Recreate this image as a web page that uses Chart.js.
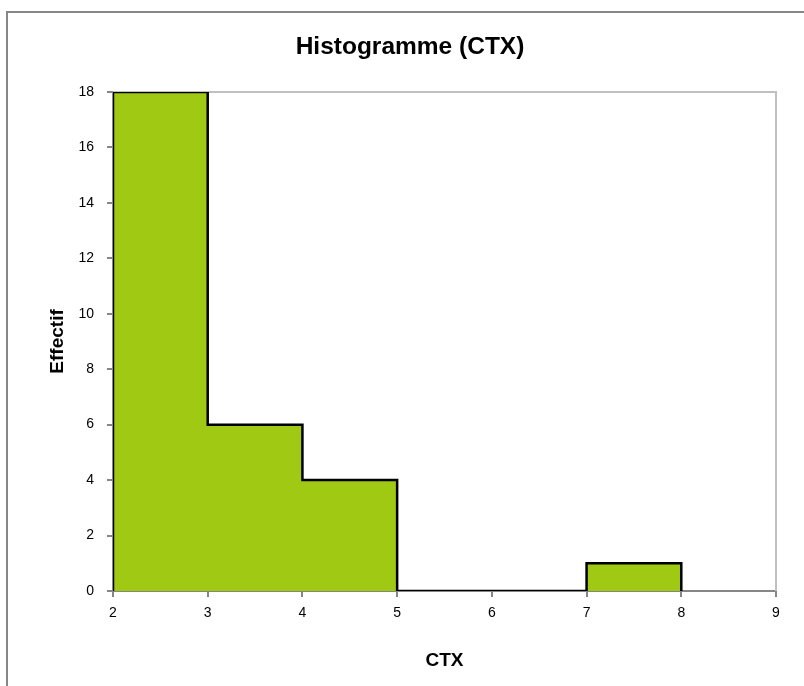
<!DOCTYPE html>
<html>
<head>
<meta charset="utf-8">
<script src="https://cdn.jsdelivr.net/npm/chart.js@4/dist/chart.umd.min.js"></script>
<style>
  html, body { margin: 0; padding: 0; background: #fff; overflow: hidden; }
  #wrap { position: relative; width: 804px; height: 686px; overflow: hidden; }
  #cadre { position: absolute; left: 6px; top: 11px; width: 900px; height: 900px; border: 2px solid #878787; }
  canvas { position: absolute; left: 0; top: 0; }
</style>
</head>
<body>
<div id="wrap">
  <div id="cadre"></div>
  <canvas id="histo" width="804" height="686"></canvas>
</div>
<script>
// classes de l'histogramme (bornes) et effectifs
var bornes = [2, 3, 4, 5, 6, 7, 8];
var effectifs = [18, 6, 4, 0, 0, 1];
var ticksY = [0, 2, 4, 6, 8, 10, 12, 14, 16, 18];
var ticksX = [2, 3, 4, 5, 6, 7, 8, 9];

// contour en escalier : on part de 0, on monte, puis on redescend a la derniere borne
var points = [{ x: bornes[0], y: 0 }];
for (let i = 0; i < effectifs.length; i++) {
    points.push({ x: bornes[i], y: effectifs[i] });
}
points.push({ x: bornes[bornes.length - 1], y: 0 });

// cadre gris clair en haut et a droite de la zone de trace
var cadreZone = {
    id: 'cadreZone',
    beforeDatasetsDraw(chart) {
        const a = chart.chartArea;
        const c = chart.ctx;
        c.save();
        c.strokeStyle = '#c0c0c0';
        c.lineWidth = 2;
        c.beginPath();
        c.moveTo(a.left, a.top);
        c.lineTo(a.right, a.top);
        c.lineTo(a.right, a.bottom);
        c.stroke();
        c.restore();
    }
};

var police = "'Liberation Sans', Arial, sans-serif";

new Chart(document.getElementById('histo'), {
    type: 'line',
    data: {
        datasets: [{
            data: points,
            stepped: 'before',
            fill: 'origin',
            backgroundColor: '#9fc912',
            borderColor: '#000',
            borderWidth: 2.5,
            pointRadius: 0
        }]
    },
    options: {
        responsive: false,
        animation: false,
        layout: { padding: { left: 44, right: 28, top: 0, bottom: 10 } },
        plugins: {
            legend: { display: false },
            tooltip: { enabled: false },
            title: {
                display: true,
                text: 'Histogramme (CTX)',
                color: '#000',
                font: { family: police, size: 24.5, weight: 'bold' },
                padding: { top: 33, bottom: 29.5 }
            }
        },
        scales: {
            x: {
                type: 'linear',
                min: 2,
                max: 9,
                afterBuildTicks(s) { s.ticks = ticksX.map(v => ({ value: v })); },
                afterFit(s) { s.height = 85; },
                grid: { display: true, drawOnChartArea: false, drawTicks: true, tickLength: 6, color: '#868686', lineWidth: 2 },
                border: { display: true, color: '#868686', width: 2 },
                ticks: { color: '#000', padding: 8, font: { family: police, size: 14 } },
                title: { display: true, text: 'CTX', color: '#000', padding: { top: 17 }, font: { family: police, size: 19, weight: 'bold' } }
            },
            y: {
                min: 0,
                max: 18,
                afterBuildTicks(s) { s.ticks = ticksY.map(v => ({ value: v })); },
                afterFit(s) { s.width = 69; },
                grid: { display: true, drawOnChartArea: false, drawTicks: true, tickLength: 6, color: '#868686', lineWidth: 2 },
                border: { display: true, color: '#868686', width: 2 },
                ticks: { color: '#000', padding: 13, font: { family: police, size: 14 } },
                title: { display: true, text: 'Effectif', color: '#000', padding: { top: 2 }, font: { family: police, size: 19, weight: 'bold' } }
            }
        }
    },
    plugins: [cadreZone]
});
</script>
</body>
</html>
